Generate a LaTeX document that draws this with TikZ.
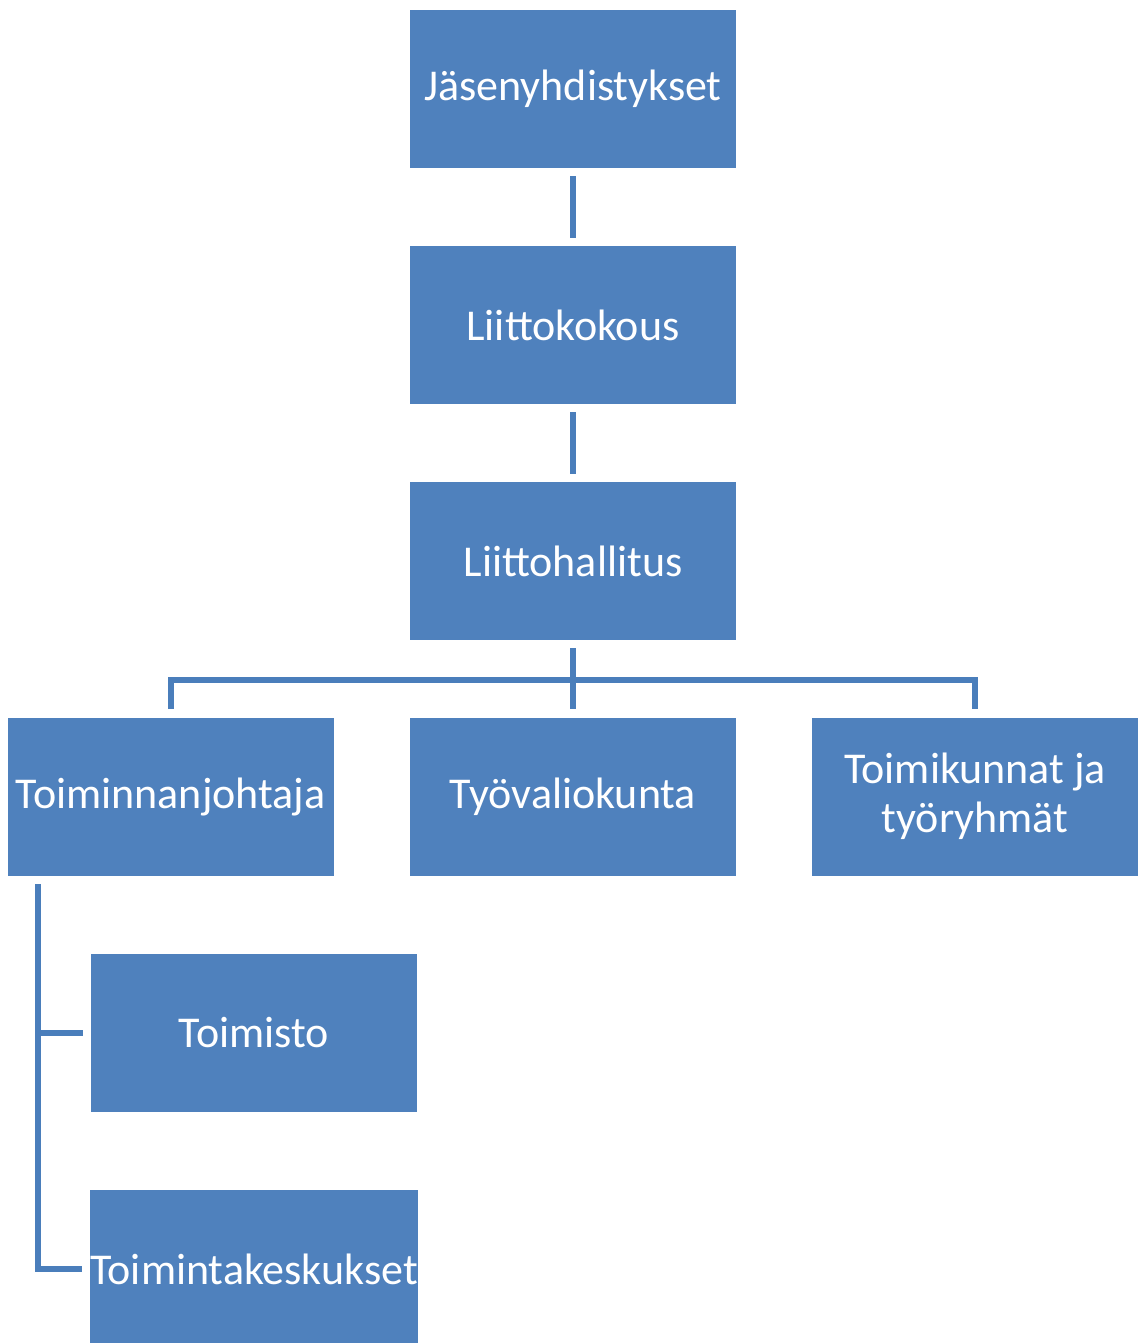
\documentclass[tikz,border=0pt]{standalone}
\usepackage{fontspec}
\setmainfont{Carlito}
\definecolor{laatikko}{HTML}{4F81BD}
\definecolor{viiva}{HTML}{4A7EBB}
\begin{document}
\begin{tikzpicture}[x=0.5pt,y=-0.5pt,
	laatikko/.style={fill=laatikko,draw=none,minimum width=163pt,minimum height=79pt,inner sep=0pt,
		text=white,align=center,font=\fontsize{22}{24.5}\selectfont},
	yhteys/.style={draw=viiva,line width=3pt}]
	\useasboundingbox (0,0) rectangle (1139,1343);
	\node[laatikko] (jasen) at (573,89) {Jäsenyhdistykset};
	\node[laatikko] (kokous) at (573,325) {Liittokokous};
	\node[laatikko] (hallitus) at (573,561) {Liittohallitus};
	\node[laatikko] (johtaja) at (170.5,796.5) {Toiminnanjohtaja};
	\node[laatikko] (tyovalio) at (573,796.5) {Työvaliokunta};
	\node[laatikko] (toimikunnat) at (975,796.5) {Toimikunnat ja\\työryhmät};
	\node[laatikko] (toimisto) at (254,1032.5) {Toimisto};
	\node[laatikko] (keskukset) at (254,1269) {Toimintakeskukset};
	\coordinate (jako) at (573,680);
	\coordinate (runko) at (38,884);
	\draw[yhteys] ([yshift=-4pt]jasen.south) -- ([yshift=4pt]kokous.north);
	\draw[yhteys] ([yshift=-4pt]kokous.south) -- ([yshift=4pt]hallitus.north);
	\draw[yhteys] ([yshift=-4pt]hallitus.south) -- ([yshift=4pt]tyovalio.north);
	\draw[yhteys] ([yshift=4pt]johtaja.north) |- (jako) -| ([yshift=4pt]toimikunnat.north);
	\draw[yhteys] (runko) |- ([xshift=-4pt]keskukset.west);
	\draw[yhteys] (runko |- toimisto.west) -- ([xshift=-4pt]toimisto.west);
\end{tikzpicture}
\end{document}
